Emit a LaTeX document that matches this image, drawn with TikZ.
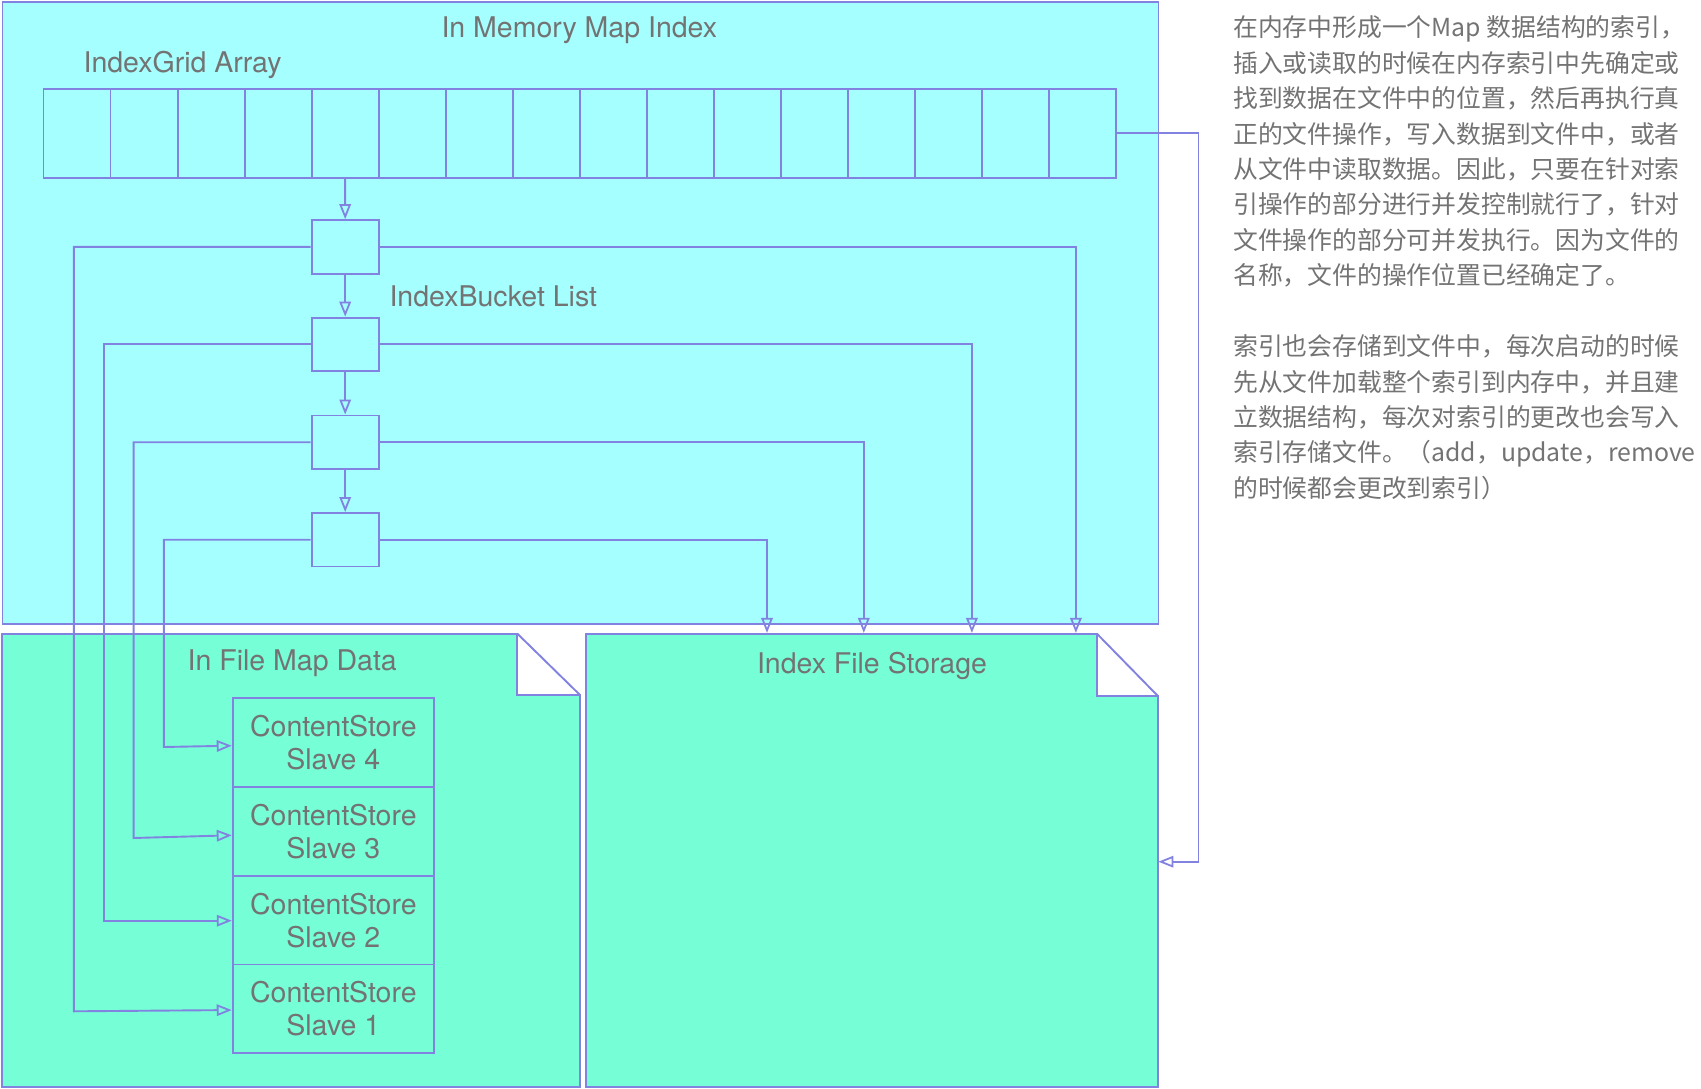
\documentclass[tikz,border=0pt]{standalone}
\usepackage{fontspec}
\setmainfont{TeX Gyre Heros}
\newfontfamily\cjk{Noto Sans CJK SC}
\usetikzlibrary{arrows.meta,calc}
\definecolor{lineblue}{RGB}{130,130,225}
\definecolor{cyanfill}{RGB}{166,255,255}
\definecolor{mintfill}{RGB}{118,255,214}
\definecolor{txtgray}{RGB}{115,115,115}
\begin{document}
\begin{tikzpicture}[x=1pt,y=-1pt,
  conn/.style={draw=lineblue, line width=1.9pt},
  arr/.style={conn, -{Triangle[open, length=15pt, width=11.5pt, line width=1.8pt]}},
  lbl/.style={inner sep=0pt, text=txtgray, font=\fontsize{28.5}{32.6}\selectfont},
  note/.style={inner sep=0pt, text=txtgray, font=\cjk\fontsize{24.8}{35.4}\selectfont},
  cellbox/.style={conn, fill=cyanfill, minimum width=67.03pt, minimum height=88.7pt, inner sep=0pt},
  bucketbox/.style={conn, fill=cyanfill, minimum width=67.3pt, minimum height=53.5pt, inner sep=0pt},
  slavebox/.style={conn, fill=mintfill, minimum width=201.3pt, minimum height=88.7pt, inner sep=0pt,
    align=center, text=txtgray, font=\fontsize{28.5}{32.6}\selectfont},
]
\useasboundingbox (0,0) rectangle (1701,1089);

% In-memory container
\node[conn, fill=cyanfill, anchor=north west, minimum width=1156pt, minimum height=621.2pt, inner sep=0pt] (mem) at (1.5,1.5) {};
\node[lbl, anchor=base] (ttl) at (579.3,37.7) {In Memory Map Index};
\node[lbl, anchor=base west] (gridlbl) at (83.4,72.7) {IndexGrid Array};

% IndexGrid array cells
\foreach \i in {1,...,16}{
  \node[cellbox] (cell\i) at ({43.5+(\i-0.5)*67.03},133.35) {};
}

% Buckets
\node[bucketbox] (b1) at (345.2,246.85) {};
\node[bucketbox] (b2) at (345.2,344.35) {};
\node[bucketbox] (b3) at (345.2,442.2) {};
\node[bucketbox] (b4) at (345.2,539.7) {};
\node[lbl, anchor=base west] (bucketlbl) at (389.3,306) {IndexBucket List};

% In File Map Data document
\draw[conn, fill=mintfill] (2,633.7) -- (517.4,633.7) -- (517.4,695) -- (580,695) -- (580,1087) -- (2,1087) -- cycle;
\draw[conn] (517.4,633.7) -- (580,695);
\node[lbl, anchor=base west] (ifmlbl) at (187.5,670.7) {In File Map Data};

% Index File Storage document
\draw[conn, fill=mintfill] (585.7,633.7) -- (1096.9,633.7) -- (1096.9,695.7) -- (1157.6,695.7) -- (1157.6,1087) -- (585.7,1087) -- cycle;
\draw[conn] (1096.9,633.7) -- (1157.6,695.7);
\node[lbl, anchor=base] (ifslbl) at (872,673.3) {Index File Storage};

% Slaves
\node[slavebox] (s4) at (333.35,742.5) {ContentStore\\Slave 4};
\node[slavebox] (s3) at (333.35,831.5) {ContentStore\\Slave 3};
\node[slavebox] (s2) at (333.35,920.5) {ContentStore\\Slave 2};
\node[slavebox] (s1) at (333.35,1008.85) {ContentStore\\Slave 1};

% lane corners and arrow targets
\coordinate (c1) at (73.9,1011.3);
\coordinate (c2) at (103.7,920.7);
\coordinate (c3) at (133.6,838);
\coordinate (c4) at (163.8,747);
\coordinate (t1) at ($(s1.west)+(0,1.2)$);
\coordinate (t2) at ($(s2.west)+(0,0.2)$);
\coordinate (t3) at ($(s3.west)+(0,3.8)$);
\coordinate (t4) at ($(s4.west)+(0,3.2)$);
\coordinate (r1) at (1075.9,0);
\coordinate (r2) at (971.9,0);
\coordinate (r3) at (863.8,0);
\coordinate (r4) at (767,0);
\coordinate (ifstop) at (0,632.9);
\coordinate (gr) at (1198.5,861.7);
\coordinate (ifsr) at (1158.4,861.7);

% chain arrows
\draw[arr] (cell5.south) -- (b1.north);
\draw[arr] (b1.south) -- (b2.north);
\draw[arr] (b2.south) -- (b3.north);
\draw[arr] (b3.south) -- (b4.north);

% to slaves
\draw[arr] (b1.west) -| (c1) -- (t1);
\draw[arr] (b2.west) -| (c2) -- (t2);
\draw[arr] (b3.west) -| (c3) -- (t3);
\draw[arr] (b4.west) -| (c4) -- (t4);

% to index file storage
\draw[arr] (b1.east) -| (r1 |- ifstop);
\draw[arr] (b2.east) -| (r2 |- ifstop);
\draw[arr] (b3.east) -| (r3 |- ifstop);
\draw[arr] (b4.east) -| (r4 |- ifstop);

% grid to storage
\draw[arr] (cell16.east) -| (gr) -- (ifsr);

% notes
\node[note, anchor=base west] (n1) at (1233,37) {在内存中形成一个Map 数据结构的索引，};
\node[note, anchor=base west] (n2) at (1233,72.4) {插入或读取的时候在内存索引中先确定或};
\node[note, anchor=base west] (n3) at (1233,107.8) {找到数据在文件中的位置，然后再执行真};
\node[note, anchor=base west] (n4) at (1233,143.2) {正的文件操作，写入数据到文件中，或者};
\node[note, anchor=base west] (n5) at (1233,178.6) {从文件中读取数据。因此，只要在针对索};
\node[note, anchor=base west] (n6) at (1233,214) {引操作的部分进行并发控制就行了，针对};
\node[note, anchor=base west] (n7) at (1233,249.4) {文件操作的部分可并发执行。因为文件的};
\node[note, anchor=base west] (n8) at (1233,284.8) {名称，文件的操作位置已经确定了。};
\node[note, anchor=base west] (n9) at (1233,355.6) {索引也会存储到文件中，每次启动的时候};
\node[note, anchor=base west] (n10) at (1233,391) {先从文件加载整个索引到内存中，并且建};
\node[note, anchor=base west] (n11) at (1233,426.4) {立数据结构，每次对索引的更改也会写入};
\node[note, anchor=base west] (n12) at (1233,461.8) {索引存储文件。（add，update，remove};
\node[note, anchor=base west] (n13) at (1233,497.2) {的时候都会更改到索引）};
\end{tikzpicture}
\end{document}
